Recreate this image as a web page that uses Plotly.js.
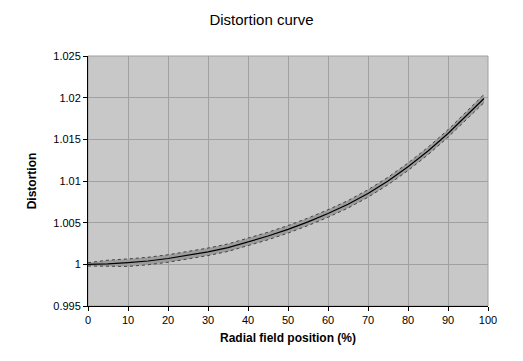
<!DOCTYPE html>
<html><head><meta charset="utf-8">
<script src="https://cdn.plot.ly/plotly-3.0.1.min.js"></script>
<style>body{margin:0;background:#fff}#c{width:523px;height:361px}</style>
</head><body><div id="c"></div>
<script>
const positions = [0,5,10,15,20,25,30,35,40,45,50,55,60,65,70,75,80,85,90,95,99];
const distortion = [1.0000,1.00005,1.0002,1.0004,1.0007,1.0011,1.0015,1.0020,1.0027,1.0034,1.0042,1.0051,1.0061,1.0072,1.0085,1.0100,1.0117,1.0136,1.0157,1.0180,1.0199];
const upper = [1.0002,1.0005,1.00065,1.00085,1.00115,1.00155,1.00195,1.00245,1.00315,1.00385,1.00465,1.00555,1.00655,1.00765,1.00895,1.01045,1.01215,1.01405,1.01615,1.01845,1.0204];
const lower = [0.9998,0.99975,0.99975,0.99995,1.00025,1.00065,1.00105,1.00155,1.00225,1.00295,1.00375,1.00465,1.00565,1.00675,1.00805,1.00955,1.01125,1.01315,1.01525,1.01755,1.0194];
const yTickVals = [0.995,1,1.005,1.01,1.015,1.02,1.025];
const yTickText = ['0.995','1','1.005','1.01','1.015','1.02','1.025'];
const xTickVals = [0,10,20,30,40,50,60,70,80,90,100];

const traces = [
 {x:positions,y:lower,mode:'lines',line:{color:'#444',width:1,dash:'dot'},hoverinfo:'skip',showlegend:false},
 {x:positions,y:upper,mode:'lines',fill:'tonexty',fillcolor:'#9c9c9c',line:{color:'#444',width:1,dash:'dot'},hoverinfo:'skip',showlegend:false},
 {x:positions,y:distortion,mode:'lines',line:{color:'#000',width:1.2},showlegend:false}
];
const layout = {
 width:523,height:361,
 margin:{l:88,r:35,t:56,b:55},
 paper_bgcolor:'#fff',plot_bgcolor:'#c8c8c8',
 font:{family:'Liberation Sans, Arial, sans-serif',size:11,color:'#000'},
 title:{text:'Distortion curve',x:0.5,xanchor:'center',y:0.944,yanchor:'middle',font:{size:15,color:'#000'}},
 xaxis:{range:[0,100],tickvals:xTickVals,showgrid:true,gridcolor:'#a0a0a0',gridwidth:1,
   showline:true,linecolor:'#000',linewidth:1,ticks:'outside',ticklen:4,tickcolor:'#000',zeroline:false,
   title:{text:'Radial field position (%)',font:{size:12,color:'#000',weight:'bold'},standoff:8}},
 yaxis:{range:[0.995,1.025],tickvals:yTickVals,ticktext:yTickText,showgrid:true,gridcolor:'#a0a0a0',gridwidth:1,
   showline:true,linecolor:'#000',linewidth:1,ticks:'outside',ticklen:4,tickcolor:'#000',zeroline:false,
   title:{text:'Distortion',font:{size:12,color:'#000',weight:'bold'},standoff:14}},
 shapes:[{type:'rect',xref:'paper',yref:'paper',x0:0,x1:1,y0:0,y1:1,line:{color:'#a0a0a0',width:1},layer:'below'}]
};
Plotly.newPlot('c',traces,layout,{displayModeBar:false,staticPlot:true});
</script></body></html>
